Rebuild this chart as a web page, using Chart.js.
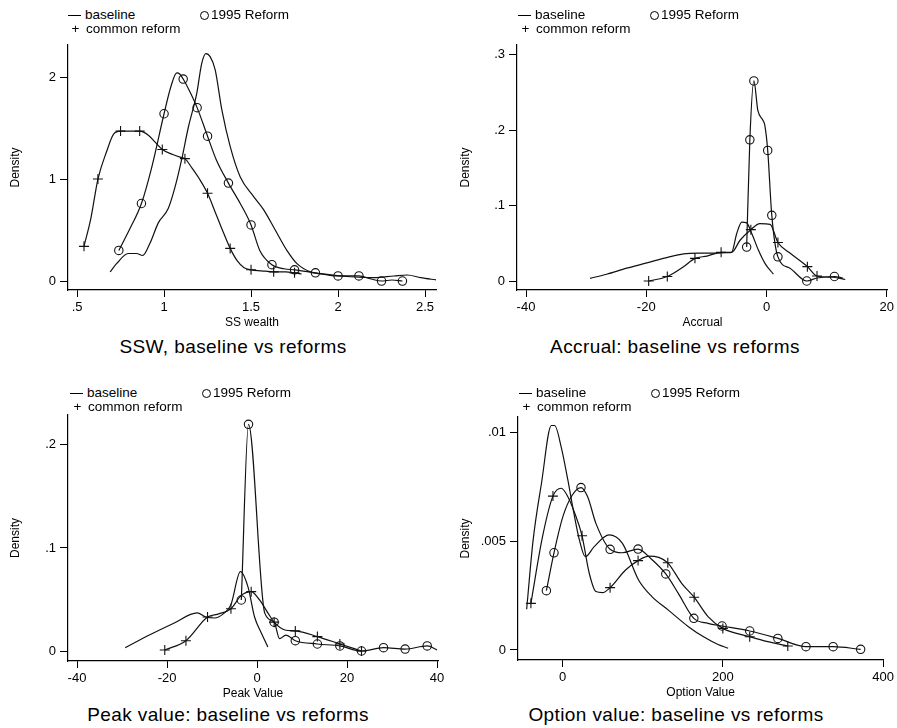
<!DOCTYPE html>
<html>
<head>
<meta charset="utf-8">
<script src="https://cdn.jsdelivr.net/npm/chart.js@4.4.1/dist/chart.umd.min.js"></script>
<style>
  body { margin: 0; background: #fff; width: 897px; height: 728px; position: relative; overflow: hidden; }
  canvas { position: absolute; }
  .txt { position: absolute; font-family: "Liberation Sans", Arial, sans-serif; color: #000; white-space: nowrap; }
  .leg { font-size: 13.5px; line-height: 14px; }
  .title { font-size: 19px; letter-spacing: 0.4px; transform: translateX(-50%); }
  .dash { display: inline-block; width: 13px; height: 0; border-top: 1.3px solid #000; vertical-align: middle; margin-right: 4px; }
  .circ { display: inline-block; width: 7px; height: 7px; border: 1.2px solid #000; border-radius: 50%; vertical-align: middle; margin-right: 2px; }
</style>
</head>
<body>
<canvas id="c1" width="450" height="297" style="left:0;top:33px"></canvas>
<canvas id="c2" width="447" height="297" style="left:450px;top:33px"></canvas>
<canvas id="c3" width="450" height="298" style="left:0;top:403px"></canvas>
<canvas id="c4" width="447" height="295" style="left:450px;top:405px"></canvas>
<script>
// ---- SS wealth ----
const sswBaseX = [0.69, 0.727, 0.794, 0.842, 0.877, 0.919, 0.967, 1.024, 1.063, 1.101, 1.14, 1.188, 1.216, 1.24, 1.265, 1.294, 1.332, 1.38, 1.438, 1.514, 1.572, 1.639, 1.706, 1.764, 1.841, 1.937, 2.072, 2.206, 2.321, 2.398, 2.475, 2.567];
const sswBaseY = [0.09, 0.17, 0.27, 0.27, 0.25, 0.37, 0.57, 0.71, 0.92, 1.19, 1.51, 1.84, 2.13, 2.23, 2.20, 2.07, 1.68, 1.32, 1.02, 0.83, 0.70, 0.50, 0.30, 0.17, 0.09, 0.065, 0.042, 0.033, 0.049, 0.059, 0.033, 0.01];
const sswRefX = [0.74, 0.80, 0.87, 0.93, 1.0, 1.04, 1.073, 1.09, 1.11, 1.15, 1.19, 1.25, 1.30, 1.37, 1.438, 1.50, 1.55, 1.62, 1.69, 1.75, 1.87, 2.0, 2.12, 2.19, 2.25, 2.31, 2.37];
const sswRefY = [0.30, 0.50, 0.76, 1.12, 1.64, 1.91, 2.04, 2.03, 1.98, 1.85, 1.70, 1.42, 1.19, 0.96, 0.76, 0.55, 0.30, 0.16, 0.12, 0.11, 0.08, 0.05, 0.05, 0.02, 0.0, 0.01, 0.0];
const sswRefMarks = [0.74, 0.87, 1.0, 1.11, 1.19, 1.25, 1.37, 1.50, 1.62, 1.75, 1.87, 2.0, 2.12, 2.25, 2.37];
const sswComX = [0.54, 0.58, 0.62, 0.67, 0.71, 0.75, 0.81, 0.86, 0.91, 0.95, 0.99, 1.05, 1.10, 1.12, 1.16, 1.20, 1.25, 1.30, 1.34, 1.38, 1.42, 1.46, 1.50, 1.56, 1.63, 1.70, 1.75, 1.79];
const sswComY = [0.34, 0.62, 1.0, 1.27, 1.44, 1.47, 1.47, 1.47, 1.43, 1.36, 1.29, 1.24, 1.21, 1.20, 1.11, 1.01, 0.86, 0.65, 0.48, 0.32, 0.20, 0.13, 0.11, 0.10, 0.09, 0.09, 0.08, 0.07];
const sswComMarks = [0.54, 0.62, 0.75, 0.86, 0.99, 1.12, 1.25, 1.38, 1.50, 1.63, 1.75];

// ---- Accrual ----
const accBaseX = [-29.35, -26.6, -23.25, -19.9, -16.6, -13.8, -11.3, -8.8, -6.6, -5.8, -4.95, -4.1, -3.3, -2.45, -1.35, -0.23, 1.15];
const accBaseY = [0.0035, 0.009, 0.017, 0.024, 0.031, 0.036, 0.037, 0.037, 0.0375, 0.038, 0.063, 0.078, 0.077, 0.063, 0.041, 0.023, 0.009];
const accRefX = [-3.3, -2.77, -2.1, -1.44, -0.6, -0.3, 0.2, 0.88, 1.9, 3.9, 6.7, 8.4, 11.3, 12.7];
const accRefY = [0.045, 0.187, 0.265, 0.226, 0.213, 0.207, 0.173, 0.087, 0.032, 0.017, 0.0, 0.004, 0.006, 0.004];
const accRefMarks = [-3.3, -2.77, -2.1, 0.2, 0.88, 1.9, 6.7, 11.3];
const accComX = [-19.6, -16.5, -13.8, -11.9, -9.9, -7.55, -5.8, -4.4, -2.6, -1.1, 0.6, 1.9, 3.9, 6.8, 8.4, 11.1, 13.1];
const accComY = [0.0, 0.006, 0.019, 0.030, 0.033, 0.038, 0.038, 0.054, 0.068, 0.076, 0.075, 0.051, 0.037, 0.019, 0.0066, 0.005, 0.002];
const accComMarks = [-19.6, -16.5, -11.9, -7.55, -2.6, 1.9, 6.8, 8.4];

// ---- Peak value ----
const pkBaseX = [-29.3, -23.7, -18.5, -13.3, -11.4, -9.5, -7.5, -5.8, -3.7, -2.0, -0.55, 1.0, 2.4];
const pkBaseY = [0.0032, 0.016, 0.027, 0.037, 0.033, 0.032, 0.036, 0.045, 0.077, 0.062, 0.033, 0.017, 0.004];
const pkRefX = [-3.5, -1.9, 1.7, 3.8, 5.0, 6.4, 8.5, 13.4, 18.4, 23.2, 28.1, 32.9, 37.8, 40.0];
const pkRefY = [0.0495, 0.220, 0.037, 0.028, 0.012, 0.0155, 0.010, 0.0068, 0.0049, 0.0, 0.0032, 0.0019, 0.0049, 0.001];
const pkRefMarks = [-3.5, -1.9, 3.8, 8.5, 13.4, 18.4, 23.2, 28.1, 32.9, 37.8];
const pkComX = [-20.5, -15.8, -11.0, -8.5, -5.8, -3.5, -1.3, 0.55, 2.4, 3.8, 6.2, 8.5, 13.4, 18.4, 23.2];
const pkComY = [0.001, 0.010, 0.033, 0.036, 0.041, 0.054, 0.0576, 0.0495, 0.037, 0.028, 0.0204, 0.0195, 0.014, 0.0068, 0.0];
const pkComMarks = [-20.5, -15.8, -11.0, -5.8, -1.3, 3.8, 8.5, 13.4, 18.4, 23.2];

// ---- Option value ----
const ovBaseX = [-44.8, -36.7, -26.3, -14, -9.9, -1.6, 6.6, 14, 21, 28.4, 39.5, 58, 74.5, 95, 111.5, 132, 157, 177, 194, 206.6];
const ovBaseY = [0.00187, 0.00505, 0.00765, 0.0103, 0.0103, 0.0093, 0.0078, 0.0063, 0.00505, 0.00428, 0.00474, 0.00528, 0.0049, 0.0032, 0.00245, 0.00183, 0.00107, 0.00058, 0.00025, 0.00008];
const ovRefX = [-20.2, -10.7, 0.4, 12, 23, 31.3, 41.6, 59.3, 74.5, 94.2, 110, 128.8, 144.4, 163.8, 181.5, 199, 233.5, 268.6, 303.7, 337.6, 371.9];
const ovRefY = [0.00272, 0.00446, 0.00612, 0.0071, 0.00745, 0.00703, 0.00581, 0.00462, 0.00446, 0.00463, 0.0042, 0.00349, 0.0026, 0.00145, 0.00122, 0.0011, 0.00087, 0.00053, 0.00015, 0.00015, 0.00003];
const ovRefMarks = [-20.2, -10.7, 23, 59.3, 94.2, 128.8, 163.8, 199, 233.5, 268.6, 303.7, 337.6, 371.9];
const ovComX = [-39.5, -25, -12, -1.6, 6.6, 15, 24.3, 33.3, 41.6, 49.8, 59.3, 78.6, 94.2, 107.4, 120, 131.3, 148.6, 164.2, 181.5, 200, 233.5, 256, 281];
const ovComY = [0.00214, 0.0052, 0.00706, 0.00742, 0.00703, 0.0063, 0.00524, 0.00352, 0.00268, 0.00263, 0.00286, 0.00367, 0.0041, 0.00431, 0.00425, 0.0040, 0.00306, 0.00242, 0.00153, 0.00099, 0.00061, 0.00038, 0.00018];
const ovComMarks = [-39.5, -12, 24.3, 59.3, 94.2, 131.3, 164.2, 200, 233.5, 281];

const legendLabels = ['baseline', '1995 Reform', 'common reform'];
const NARROW = '"Liberation Sans Narrow", "Liberation Sans", Arial, sans-serif';

function fmt(v) {
    const s = String(+(+v).toFixed(6));
    return s.replace(/^(-?)0\./, '$1.');
}

function line(xs, ys, marks, style) {
    return {
        data: xs.map((x, i) => ({ x: x, y: ys[i] })),
        borderColor: '#111',
        borderWidth: 1.2,
        backgroundColor: 'rgba(0,0,0,0)',
        cubicInterpolationMode: 'monotone',
        pointStyle: style || 'circle',
        pointRadius: xs.map(x => marks && marks.includes(x) ? (style === 'cross' ? 5 : 4.2) : 0),
        pointBorderColor: '#111',
        pointBorderWidth: 1.1,
        pointBackgroundColor: 'rgba(0,0,0,0)',
        fill: false
    };
}

function makePanel(id, o) {
    new Chart(document.getElementById(id), {
        type: 'line',
        data: { datasets: o.sets },
        options: {
            responsive: false,
            animation: false,
            events: [],
            layout: { padding: { top: 12, right: o.padRight, left: 0, bottom: 0 } },
            plugins: { legend: { display: false }, tooltip: { enabled: false } },
            scales: {
                x: {
                    type: 'linear', min: o.xMin, max: o.xMax,
                    afterBuildTicks: s => { s.ticks = o.xTicks.map(v => ({ value: v })); },
                    afterFit: s => { s.height = 40; },
                    grid: { drawOnChartArea: false, drawTicks: true, tickLength: 7, color: '#000' },
                    border: { display: true, color: '#000', width: 1.2 },
                    ticks: { color: '#000', padding: 3, maxRotation: 0, autoSkip: false,
                             font: { family: NARROW, size: 13 }, callback: v => fmt(v) },
                    title: { display: true, text: o.xTitle, color: '#000', padding: 0,
                             font: { family: NARROW, size: 12 } }
                },
                y: {
                    type: 'linear', min: o.yMin, max: o.yMax,
                    afterBuildTicks: s => { s.ticks = o.yTicks.map(v => ({ value: v })); },
                    afterFit: s => { s.width = o.yWidth; },
                    grid: { drawOnChartArea: false, drawTicks: true, tickLength: 8, color: '#000' },
                    border: { display: true, color: '#000', width: 1.2 },
                    ticks: { color: '#000', padding: 4, autoSkip: false,
                             font: { family: NARROW, size: 13 }, callback: v => fmt(v) },
                    title: { display: true, text: 'Density', color: '#000', padding: { top: 8, bottom: 0 },
                             font: { family: NARROW, size: 12 } }
                }
            }
        }
    });
}

makePanel('c1', {
    xMin: 0.448, xMax: 2.563, yMin: -0.088, yMax: 2.314, xTicks: [0.5, 1, 1.5, 2, 2.5], yTicks: [0, 1, 2],
    xTitle: 'SS wealth', yWidth: 68, padRight: 14,
    sets: [line(sswBaseX, sswBaseY), line(sswRefX, sswRefY, sswRefMarks, 'circle'), line(sswComX, sswComY, sswComMarks, 'cross')]
});
makePanel('c2', {
    xMin: -41.5, xMax: 20.2, yMin: -0.0119, yMax: 0.3126, xTicks: [-40, -20, 0, 20], yTicks: [0, 0.1, 0.2, 0.3],
    xTitle: 'Accrual', yWidth: 67, padRight: 9,
    sets: [line(accBaseX, accBaseY), line(accRefX, accRefY, accRefMarks, 'circle'), line(accComX, accComY, accComMarks, 'cross')]
});
makePanel('c3', {
    xMin: -42, xMax: 40.2, yMin: -0.0097, yMax: 0.229, xTicks: [-40, -20, 0, 20, 40], yTicks: [0, 0.1, 0.2],
    xTitle: 'Peak Value', yWidth: 68, padRight: 12,
    sets: [line(pkBaseX, pkBaseY), line(pkRefX, pkRefY, pkRefMarks, 'circle'), line(pkComX, pkComY, pkComMarks, 'cross')]
});
makePanel('c4', {
    xMin: -55.6, xMax: 400, yMin: -0.00046, yMax: 0.01069, xTicks: [0, 200, 400], yTicks: [0, 0.005, 0.01],
    xTitle: 'Option Value', yWidth: 68, padRight: 10,
    sets: [line(ovBaseX, ovBaseY), line(ovRefX, ovRefY, ovRefMarks, 'circle'), line(ovComX, ovComY, ovComMarks, 'cross')]
});

// legends and panel titles
function addText(html, cls, x, y) {
    const d = document.createElement('div');
    d.className = 'txt ' + cls;
    d.style.left = x + 'px';
    d.style.top = y + 'px';
    d.innerHTML = html;
    document.body.appendChild(d);
}
function legend(x, y) {
    addText('<span class="dash"></span>' + legendLabels[0], 'leg', x, y);
    addText('<span class="circ"></span>' + legendLabels[1], 'leg', x + 132, y);
    addText('<span style="display:inline-block;width:11px;text-align:center;margin-right:5px;margin-left:2px">+</span>' + legendLabels[2], 'leg', x, y + 14);
}
legend(68, 8);
legend(518, 8);
legend(70, 386);
legend(519, 386);

const panelTitles = ['SSW, baseline vs reforms', 'Accrual: baseline vs reforms', 'Peak value: baseline vs reforms', 'Option value: baseline vs reforms'];
addText(panelTitles[0], 'title', 233, 336);
addText(panelTitles[1], 'title', 675, 336);
addText(panelTitles[2], 'title', 228, 704);
addText(panelTitles[3], 'title', 676, 704);
</script>
</body>
</html>
